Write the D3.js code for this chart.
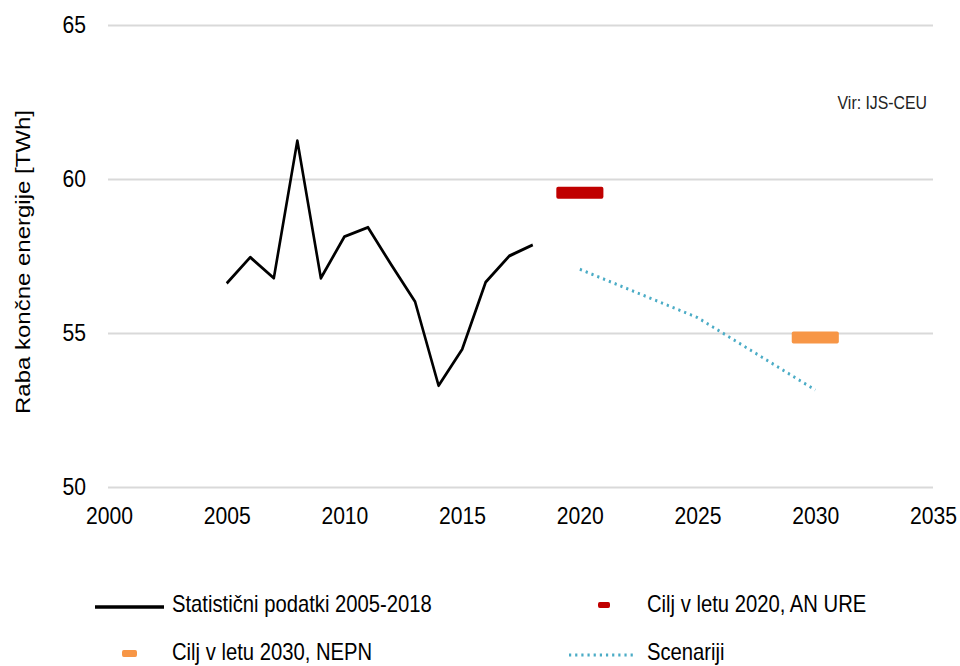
<!DOCTYPE html>
<html>
<head>
<meta charset="utf-8">
<script src="https://cdn.jsdelivr.net/npm/d3@7.9.0/dist/d3.min.js"></script>
<style>
  html, body { margin: 0; padding: 0; background: #fff; }
  svg { display: block; font-family: "Liberation Sans", Arial, sans-serif; }
</style>
</head>
<body>
<svg id="chart"></svg>
<script>
// data
const statYears = [2005, 2006, 2007, 2008, 2009, 2010, 2011, 2012, 2013, 2014, 2015, 2016, 2017, 2018];
const statValues = [56.61, 57.46, 56.78, 61.24, 56.78, 58.13, 58.43, 57.2, 56.02, 53.29, 54.47, 56.65, 57.5, 57.86];
const scenYears = [2020, 2025, 2030];
const scenValues = [57.07, 55.5, 53.15];
const target2020 = { from: 2019, to: 2021, value: 59.55 };
const target2030 = { from: 2029, to: 2031, value: 54.85 };
const xTicks = [2000, 2005, 2010, 2015, 2020, 2025, 2030, 2035];
const yTicks = [50, 55, 60, 65];

// the original picture is squeezed a little horizontally
const sx = 0.88;
const X = px => px / sx;
const W = 960, H = 666;

const svg = d3.select('#chart')
    .attr('width', W)
    .attr('height', H)
    .attr('viewBox', `0 0 ${W / sx} ${H}`)
    .attr('preserveAspectRatio', 'none');

let x = d3.scaleLinear().domain([2000, 2035]).range([X(109), X(933)]);
let y = d3.scaleLinear().domain([50, 65]).range([487, 25]);

// gridlines + y labels
let yAxis = svg.append('g')
    .attr('transform', `translate(${X(108)},0)`)
    .call(d3.axisLeft(y).tickValues(yTicks).tickSize(-(X(933) - X(108))).tickPadding(X(22)));
yAxis.select('.domain').remove();
yAxis.selectAll('line').attr('stroke', '#d9d9d9').attr('stroke-width', 2);
yAxis.selectAll('text').attr('font-size', 24).attr('fill', '#000')
    .attr('font-family', '"Liberation Sans", Arial, sans-serif');

// x labels
let xAxis = svg.append('g')
    .attr('transform', `translate(0,${y(50)})`)
    .call(d3.axisBottom(x).tickValues(xTicks).tickFormat(d3.format('d')).tickSize(0).tickPadding(20));
xAxis.select('.domain').remove();
xAxis.selectAll('text').attr('font-size', 24).attr('fill', '#000')
    .attr('font-family', '"Liberation Sans", Arial, sans-serif');

// y title
svg.append('text')
    .attr('transform', `translate(${X(30)},262) rotate(-90)`)
    .attr('text-anchor', 'middle')
    .attr('font-size', 24)
    .text('Raba končne energije [TWh]');

// source note
svg.append('text')
    .attr('x', X(927)).attr('y', 109)
    .attr('text-anchor', 'end')
    .attr('font-size', 18)
    .attr('fill', '#222')
    .text('Vir: IJS-CEU');

// targets
[[target2020, '#c00000'], [target2030, '#f79646']].forEach(([t, c]) => {
    svg.append('rect')
        .attr('x', x(t.from))
        .attr('width', x(t.to) - x(t.from))
        .attr('y', y(t.value) - 6)
        .attr('height', 12)
        .attr('rx', 2)
        .attr('fill', c);
});

// scenario
let line = d3.line().x(d => x(d[0])).y(d => y(d[1]));
svg.append('path')
    .attr('d', line(d3.zip(scenYears, scenValues)))
    .attr('fill', 'none')
    .attr('stroke', '#4bacc6')
    .attr('stroke-width', 3)
    .attr('stroke-dasharray', '2.5,4.5');

// statistics
svg.append('path')
    .attr('d', line(d3.zip(statYears, statValues)))
    .attr('fill', 'none')
    .attr('stroke', '#000')
    .attr('stroke-width', 3)
    .attr('stroke-linejoin', 'round');

// legend
let legend = svg.append('g').attr('font-size', 23);
legend.append('line')
    .attr('x1', X(95)).attr('x2', X(164)).attr('y1', 607).attr('y2', 607)
    .attr('stroke', '#000').attr('stroke-width', 3.5);
legend.append('text').attr('x', X(172)).attr('y', 612).text('Statistični podatki 2005-2018');

legend.append('rect')
    .attr('x', X(598)).attr('width', X(610) - X(598)).attr('y', 602).attr('height', 6).attr('rx', 2)
    .attr('fill', '#c00000');
legend.append('text').attr('x', X(647)).attr('y', 612).text('Cilj v letu 2020, AN URE');

legend.append('rect')
    .attr('x', X(122)).attr('width', X(137) - X(122)).attr('y', 650).attr('height', 7).attr('rx', 2)
    .attr('fill', '#f79646');
legend.append('text').attr('x', X(172)).attr('y', 660).text('Cilj v letu 2030, NEPN');

legend.append('line')
    .attr('x1', X(569)).attr('x2', X(635)).attr('y1', 655).attr('y2', 655)
    .attr('stroke', '#4bacc6').attr('stroke-width', 3).attr('stroke-dasharray', '2.5,4.5');
legend.append('text').attr('x', X(647)).attr('y', 660).text('Scenariji');
</script>
</body>
</html>
